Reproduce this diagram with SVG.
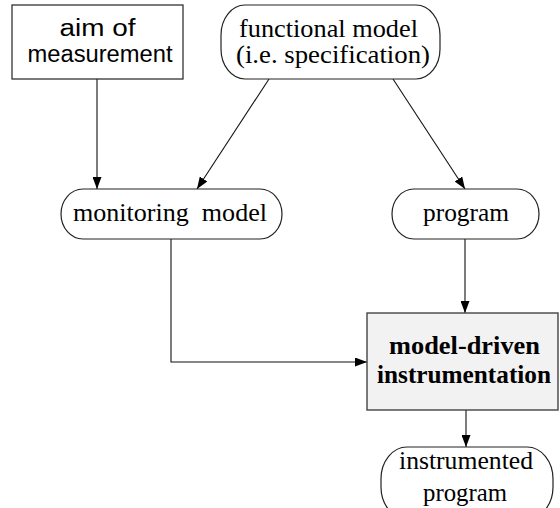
<svg xmlns="http://www.w3.org/2000/svg" width="560" height="508" viewBox="0 0 560 508">
  <style>
    .shape { fill: #ffffff; stroke: #222222; stroke-width: 1.2; }
    .proc { fill: #f2f2f2; stroke: #444444; stroke-width: 1.4; }
    .sans { font-family: "Liberation Sans", Arial, sans-serif; font-size: 23px; fill: #000; text-anchor: middle; }
    .serif { font-family: "Liberation Serif", "Times New Roman", serif; font-size: 26px; fill: #000; text-anchor: middle; }
    .bold { font-weight: bold; }
    .edge { fill: none; stroke: #111111; stroke-width: 1.1; marker-end: url(#arrow); }
  </style>
  <defs>
    <marker id="arrow" viewBox="0 0 12 9" refX="12" refY="4.5" markerWidth="12" markerHeight="9" markerUnits="userSpaceOnUse" orient="auto">
      <path d="M0,0 L12,4.5 L0,9 Z" fill="#000"/>
    </marker>
  </defs>

  <rect width="560" height="508" fill="#ffffff"/>

  <!-- connectors -->
  <g id="connectors">
    <line class="edge" x1="97" y1="79" x2="97" y2="189"/>
    <line class="edge" x1="269" y1="79" x2="197" y2="189"/>
    <line class="edge" x1="393" y1="79" x2="465" y2="189"/>
    <polyline class="edge" points="171,239 171,362 367,362"/>
    <line class="edge" x1="465" y1="239" x2="465" y2="313"/>
    <line class="edge" x1="466" y1="410" x2="466" y2="447"/>
  </g>

  <g id="aim">
    <rect class="shape" x="12" y="5" width="171" height="74"/>
    <text class="sans" x="97.5" y="36" textLength="76" lengthAdjust="spacingAndGlyphs">aim of</text>
    <text class="sans" x="100" y="62" textLength="145" lengthAdjust="spacingAndGlyphs">measurement</text>
  </g>

  <g id="functional-model">
    <rect class="shape" x="221" y="5" width="219" height="74" rx="24" ry="30"/>
    <text class="serif" x="328.5" y="37" textLength="179" lengthAdjust="spacingAndGlyphs">functional model</text>
    <text class="serif" x="333" y="63" textLength="194" lengthAdjust="spacingAndGlyphs">(i.e. specification)</text>
  </g>

  <g id="monitoring-model">
    <rect class="shape" x="61" y="189" width="221" height="50" rx="22" ry="25"/>
    <text class="serif" x="170" y="221" xml:space="preserve" style="white-space:pre" textLength="194" lengthAdjust="spacingAndGlyphs">monitoring  model</text>
  </g>

  <g id="program">
    <rect class="shape" x="392" y="189" width="147" height="50" rx="22" ry="25"/>
    <text class="serif" x="466" y="221" textLength="86" lengthAdjust="spacingAndGlyphs">program</text>
  </g>

  <g id="model-driven-instrumentation">
    <rect class="proc" x="367" y="313" width="191" height="97"/>
    <text class="serif bold" x="464.5" y="354" textLength="151" lengthAdjust="spacingAndGlyphs">model-driven</text>
    <text class="serif bold" x="464" y="383" textLength="174" lengthAdjust="spacingAndGlyphs">instrumentation</text>
  </g>

  <g id="instrumented-program">
    <rect class="shape" x="381" y="447" width="172" height="72" rx="26" ry="32"/>
    <text class="serif" x="466" y="469" textLength="134" lengthAdjust="spacingAndGlyphs">instrumented</text>
    <text class="serif" x="465" y="501" textLength="84" lengthAdjust="spacingAndGlyphs">program</text>
  </g>
</svg>
